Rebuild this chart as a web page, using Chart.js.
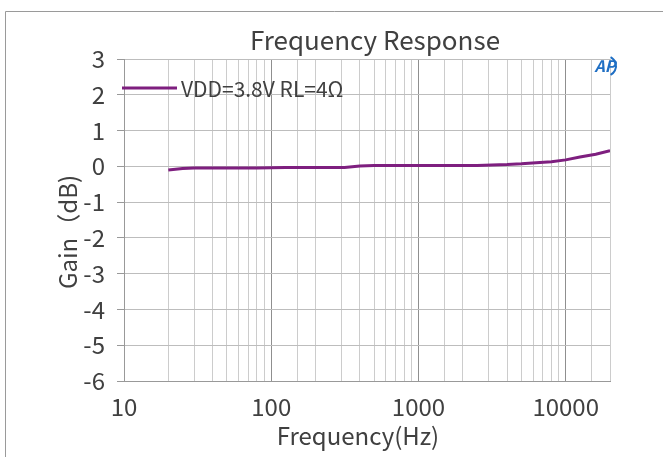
<!DOCTYPE html>
<html>
<head>
<meta charset="utf-8">
<script src="https://cdn.jsdelivr.net/npm/chart.js@4.4.1/dist/chart.umd.min.js"></script>
<style>
html, body { margin: 0; padding: 0; background: #fff; }
#wrap { width: 663px; height: 457px; }
</style>
</head>
<body>
<div id="wrap"><canvas id="fr-chart" width="663" height="457"></canvas></div>
<script>
// values
const freqHz = [20, 25, 30, 40, 50, 63, 80, 100, 125, 160, 200, 250, 315, 400, 500, 630, 800,
    1000, 1250, 1600, 2000, 2500, 3150, 4000, 5000, 6300, 8000, 10000, 12500, 16000, 20000];
const gainDb = [-0.10, -0.06, -0.05, -0.05, -0.05, -0.05, -0.05, -0.04, -0.03, -0.03, -0.03, -0.03, -0.03, 0.01, 0.02, 0.02, 0.02,
    0.02, 0.02, 0.02, 0.02, 0.02, 0.04, 0.05, 0.07, 0.10, 0.13, 0.18, 0.26, 0.34, 0.44];
const xTickLabels = [10, 100, 1000, 10000];
const seriesName = 'VDD=3.8V RL=4Ω';
const chartTitle = 'Frequency Response';
const xTitle = 'Frequency(Hz)';
const yTitle = 'Gain（dB)';

const lineColor = '#7e1f7f';
const textColor = '#404040';
const fontName = '"Noto Sans CJK SC"';

const points = freqHz.map((f, i) => ({ x: f, y: gainDb[i] }));

function isDecade(v) {
    const l = Math.log10(v);
    return Math.abs(l - Math.round(l)) < 1e-9;
}

const decorations = {
    id: 'decorations',
    beforeDraw(chart) {
        const ctx = chart.ctx;
        ctx.save();
        ctx.fillStyle = '#fff';
        ctx.fillRect(0, 0, chart.width, chart.height);
        ctx.strokeStyle = '#9a9a9a';
        ctx.lineWidth = 1;
        ctx.beginPath();
        ctx.moveTo(5.5, chart.height);
        ctx.lineTo(5.5, 11.5);
        ctx.lineTo(chart.width, 11.5);
        ctx.stroke();
        ctx.restore();
    },
    afterDraw(chart) {
        const ctx = chart.ctx;
        ctx.save();
        ctx.fillStyle = textColor;
        ctx.textBaseline = 'middle';

        // title
        ctx.textAlign = 'center';
        ctx.font = '26px ' + fontName;
        ctx.fillText(chartTitle, 375, 40);

        // x axis title
        ctx.font = '24px ' + fontName;
        ctx.fillText(xTitle, 358, 436);

        // legend
        ctx.strokeStyle = lineColor;
        ctx.lineWidth = 3;
        ctx.beginPath();
        ctx.moveTo(122, 88);
        ctx.lineTo(177, 88);
        ctx.stroke();
        ctx.textAlign = 'left';
        ctx.font = '21px ' + fontName;
        ctx.fillText(seriesName, 181, 89);

        // logo
        ctx.fillStyle = '#1f6fc4';
        ctx.font = 'italic bold 16px ' + fontName;
        ctx.textAlign = 'center';
        ctx.fillText('AP', 605, 66);
        ctx.strokeStyle = '#1f6fc4';
        ctx.lineWidth = 2;
        ctx.beginPath();
        ctx.arc(606, 66, 10, -1.1, 1.1);
        ctx.stroke();

        // y axis title
        ctx.fillStyle = textColor;
        ctx.translate(68, 232);
        ctx.rotate(-Math.PI / 2);
        ctx.font = '24px ' + fontName;
        ctx.fillText(yTitle, 0, 0);
        ctx.restore();
    }
};

new Chart(document.getElementById('fr-chart'), {
    type: 'line',
    data: {
        datasets: [{
            label: seriesName,
            data: points,
            borderColor: lineColor,
            borderWidth: 3,
            pointRadius: 0,
            fill: false,
            tension: 0
        }]
    },
    options: {
        responsive: false,
        animation: false,
        layout: { padding: { top: 59, right: 53, left: 0, bottom: 0 } },
        plugins: {
            legend: { display: false },
            title: { display: false },
            tooltip: { enabled: false }
        },
        scales: {
            x: {
                type: 'logarithmic',
                min: 10,
                max: 20000,
                afterFit(scale) { scale.height = 76; },
                border: { color: '#999' },
                grid: {
                    drawTicks: false,
                    color: (c) => (c.tick && isDecade(c.tick.value)) ? '#8f8f8f' : '#cccccc',
                    lineWidth: 1
                },
                ticks: {
                    autoSkip: false,
                    maxRotation: 0,
                    padding: 11,
                    color: textColor,
                    font: { family: fontName, size: 24 },
                    callback: (v) => xTickLabels.includes(v) ? String(v) : ''
                }
            },
            y: {
                min: -6,
                max: 3,
                afterFit(scale) { scale.width = 124; },
                border: { color: '#999' },
                grid: {
                    color: '#bdbdbd',
                    tickColor: '#999',
                    tickLength: 7
                },
                ticks: {
                    stepSize: 1,
                    padding: 12,
                    color: textColor,
                    font: { family: fontName, size: 24 }
                }
            }
        }
    },
    plugins: [decorations]
});
</script>
</body>
</html>
